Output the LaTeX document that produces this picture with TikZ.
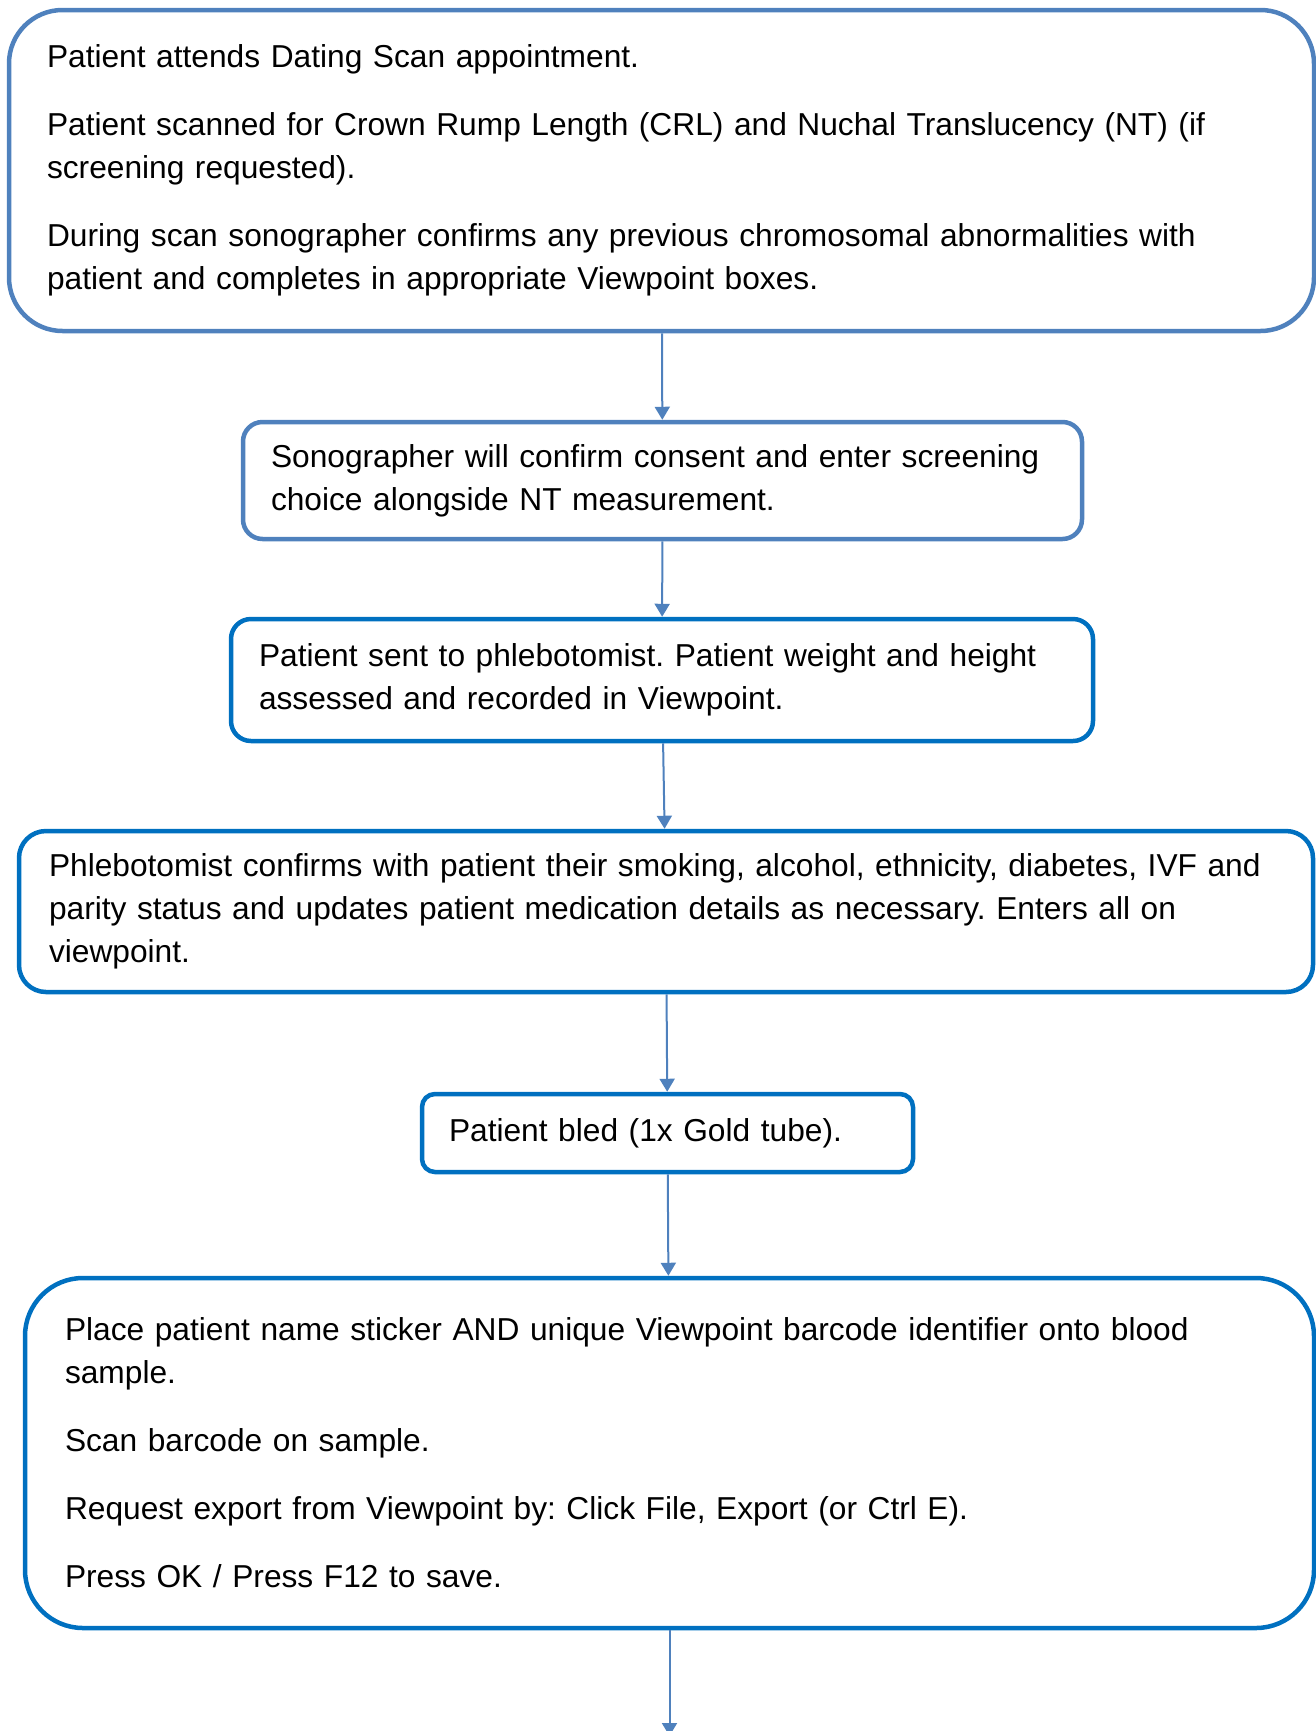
\documentclass[tikz,border=0pt]{standalone}
\usepackage{fontspec}
\setmainfont{Liberation Sans}
\usetikzlibrary{arrows.meta}
\definecolor{paleblue}{HTML}{4F81BD}
\definecolor{deepblue}{HTML}{0070C0}
\tikzset{
  stage/.style={draw=deepblue, line width=2.25pt, align=left, inner ysep=3pt,
    font=\fontsize{15.85}{21.5}\selectfont\frenchspacing},
  link/.style={draw=paleblue, line width=1pt, -{Triangle[length=6.5pt,width=7.5pt]}}
}
\begin{document}
\begin{tikzpicture}[x=0.5pt,y=-0.5pt]
                \useasboundingbox (0,0) rectangle (1316,1731);
                \node[stage, draw=paleblue, rounded corners=26.75pt, minimum width=652.5pt, minimum height=160.5pt,
                      inner xsep=19pt, text width=614.5pt] (A) at (661.5,170.5)
                  {Patient attends Dating Scan appointment.\\[12.5pt]
                   Patient scanned for Crown Rump Length (CRL) and Nuchal Translucency (NT) (if\\
                   screening requested).\\[12.5pt]
                   During scan sonographer confirms any previous chromosomal abnormalities with\\
                   patient and completes in appropriate Viewpoint boxes.};
                \node[stage, draw=paleblue, rounded corners=9.75pt, minimum width=419.5pt, minimum height=58.5pt,
                      inner xsep=14pt, text width=391.5pt] (B) at (662.5,480.5)
                  {Sonographer will confirm consent and enter screening\\
                   choice alongside NT measurement.};
                \node[stage, rounded corners=10pt, minimum width=431pt, minimum height=61pt,
                      inner xsep=14pt, text width=403pt] (C) at (662,680)
                  {Patient sent to phlebotomist. Patient weight and height\\
                   assessed and recorded in Viewpoint.};
                \node[stage, rounded corners=13.5pt, minimum width=647pt, minimum height=80.5pt,
                      inner xsep=15pt, text width=617pt] (D) at (666,911.5)
                  {Phlebotomist confirms with patient their smoking, alcohol, ethnicity, diabetes, IVF and\\
                   parity status and updates patient medication details as necessary. Enters all on\\
                   viewpoint.};
                \node[stage, rounded corners=6.5pt, minimum width=245.5pt, minimum height=39pt,
                      inner xsep=13.5pt, text width=218.5pt] (E) at (667.5,1133)
                  {Patient bled (1x Gold tube).};
                \node[stage, rounded corners=29pt, minimum width=644.5pt, minimum height=175pt,
                      inner xsep=20pt, text width=604.5pt] (F) at (669.5,1453)
                  {Place patient name sticker AND unique Viewpoint barcode identifier onto blood\\
                   sample.\\[12.5pt]
                   Scan barcode on sample.\\[12.5pt]
                   Request export from Viewpoint by: Click File, Export (or Ctrl E).\\[12.5pt]
                   Press OK / Press F12 to save.};
                \coordinate (G) at (669.5,1736);
                \draw[link] (A) -- (B);
                \draw[link] (B) -- (C);
                \draw[link] (C) -- (D);
                \draw[link] (D) -- (E);
                \draw[link] (E) -- (F);
                \draw[link] (F) -- (G);
\end{tikzpicture}
\end{document}
